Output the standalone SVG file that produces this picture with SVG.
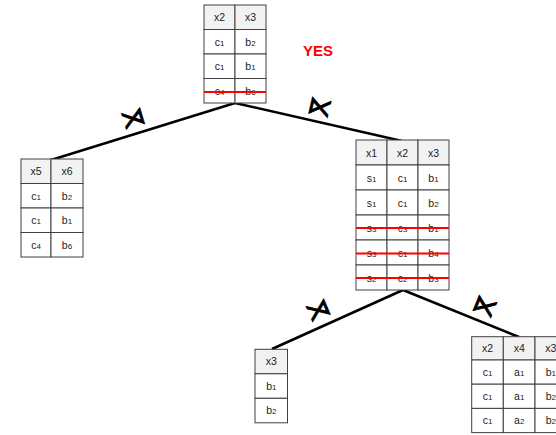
<svg xmlns="http://www.w3.org/2000/svg" width="556" height="435" viewBox="0 0 556 435">
<style>
.cell{fill:#ffffff;stroke:#404040;stroke-width:1}
.hd{fill:#f2f2f2;stroke:#404040;stroke-width:1}
.t{font-family:"Liberation Sans",Arial,sans-serif;font-size:10.5px;fill:#222;text-anchor:middle}
.s{font-size:8px}
.strike{stroke:#ff0000;stroke-width:2.2}
.edge{stroke:#000;stroke-width:2.5;fill:none}
.sym{font-family:"DejaVu Sans",sans-serif;font-size:24px;fill:#000;stroke:#000;stroke-width:1;text-anchor:middle;dominant-baseline:central}
.yes{font-family:"Liberation Sans",Arial,sans-serif;font-size:15px;font-weight:bold;fill:#ff0000;text-anchor:middle}
</style>
<rect width="556" height="435" fill="#ffffff"/>
<g id="connectors">
<line class="edge" x1="51" y1="160" x2="235" y2="103"/>
<line class="edge" x1="235" y1="103" x2="402" y2="141"/>
<line class="edge" x1="403" y1="290" x2="272" y2="349"/>
<line class="edge" x1="403" y1="290" x2="519" y2="337"/>
<text class="sym" transform="translate(133,118) rotate(-17)">⋊</text>
<text class="sym" transform="translate(320,107) rotate(13)">⋉</text>
<text class="sym" transform="translate(318,310) rotate(-23)">⋊</text>
<text class="sym" transform="translate(485,306) rotate(22)">⋉</text>
</g>
<g id="t_top">
<rect class="hd" x="204" y="5" width="31" height="24.5"/><rect class="hd" x="235" y="5" width="31" height="24.5"/>
<rect class="cell" x="204" y="29.5" width="31" height="24.5"/><rect class="cell" x="235" y="29.5" width="31" height="24.5"/>
<rect class="cell" x="204" y="54" width="31" height="24.5"/><rect class="cell" x="235" y="54" width="31" height="24.5"/>
<rect class="cell" x="204" y="78.5" width="31" height="24.5"/><rect class="cell" x="235" y="78.5" width="31" height="24.5"/>
<text class="t" x="219.5" y="21">x2</text><text class="t" x="250.5" y="21">x3</text>
<text class="t" x="219.5" y="45.5">c<tspan class="s">1</tspan></text><text class="t" x="250.5" y="45.5">b<tspan class="s">2</tspan></text>
<text class="t" x="219.5" y="70">c<tspan class="s">1</tspan></text><text class="t" x="250.5" y="70">b<tspan class="s">1</tspan></text>
<text class="t" x="219.5" y="94.5">c<tspan class="s">4</tspan></text><text class="t" x="250.5" y="94.5">b<tspan class="s">6</tspan></text>
<line class="strike" x1="204" y1="92" x2="266" y2="92"/>
</g>
<g id="yes">
<text class="yes" x="318" y="56">YES</text>
</g>
<g id="t_left">
<rect class="hd" x="21" y="159" width="30" height="24.5"/><rect class="hd" x="51" y="159" width="32" height="24.5"/>
<rect class="cell" x="21" y="183.5" width="30" height="24.5"/><rect class="cell" x="51" y="183.5" width="32" height="24.5"/>
<rect class="cell" x="21" y="208" width="30" height="24.5"/><rect class="cell" x="51" y="208" width="32" height="24.5"/>
<rect class="cell" x="21" y="232.5" width="30" height="24.5"/><rect class="cell" x="51" y="232.5" width="32" height="24.5"/>
<text class="t" x="36" y="175">x5</text><text class="t" x="67" y="175">x6</text>
<text class="t" x="36" y="199.5">c<tspan class="s">1</tspan></text><text class="t" x="67" y="199.5">b<tspan class="s">2</tspan></text>
<text class="t" x="36" y="224">c<tspan class="s">1</tspan></text><text class="t" x="67" y="224">b<tspan class="s">1</tspan></text>
<text class="t" x="36" y="248.5">c<tspan class="s">4</tspan></text><text class="t" x="67" y="248.5">b<tspan class="s">6</tspan></text>
</g>
<g id="t_mid">
<rect class="hd" x="356" y="140" width="31" height="25"/><rect class="hd" x="387" y="140" width="31" height="25"/><rect class="hd" x="418" y="140" width="31" height="25"/>
<rect class="cell" x="356" y="165" width="31" height="25"/><rect class="cell" x="387" y="165" width="31" height="25"/><rect class="cell" x="418" y="165" width="31" height="25"/>
<rect class="cell" x="356" y="190" width="31" height="25"/><rect class="cell" x="387" y="190" width="31" height="25"/><rect class="cell" x="418" y="190" width="31" height="25"/>
<rect class="cell" x="356" y="215" width="31" height="25"/><rect class="cell" x="387" y="215" width="31" height="25"/><rect class="cell" x="418" y="215" width="31" height="25"/>
<rect class="cell" x="356" y="240" width="31" height="25"/><rect class="cell" x="387" y="240" width="31" height="25"/><rect class="cell" x="418" y="240" width="31" height="25"/>
<rect class="cell" x="356" y="265" width="31" height="25"/><rect class="cell" x="387" y="265" width="31" height="25"/><rect class="cell" x="418" y="265" width="31" height="25"/>
<text class="t" x="371.5" y="156.5">x1</text><text class="t" x="402.5" y="156.5">x2</text><text class="t" x="433.5" y="156.5">x3</text>
<text class="t" x="371.5" y="181.5">s<tspan class="s">1</tspan></text><text class="t" x="402.5" y="181.5">c<tspan class="s">1</tspan></text><text class="t" x="433.5" y="181.5">b<tspan class="s">1</tspan></text>
<text class="t" x="371.5" y="206.5">s<tspan class="s">1</tspan></text><text class="t" x="402.5" y="206.5">c<tspan class="s">1</tspan></text><text class="t" x="433.5" y="206.5">b<tspan class="s">2</tspan></text>
<text class="t" x="371.5" y="231.5">s<tspan class="s">3</tspan></text><text class="t" x="402.5" y="231.5">c<tspan class="s">3</tspan></text><text class="t" x="433.5" y="231.5">b<tspan class="s">1</tspan></text>
<text class="t" x="371.5" y="256.5">s<tspan class="s">3</tspan></text><text class="t" x="402.5" y="256.5">c<tspan class="s">1</tspan></text><text class="t" x="433.5" y="256.5">b<tspan class="s">4</tspan></text>
<text class="t" x="371.5" y="281.5">s<tspan class="s">2</tspan></text><text class="t" x="402.5" y="281.5">c<tspan class="s">2</tspan></text><text class="t" x="433.5" y="281.5">b<tspan class="s">3</tspan></text>
<line class="strike" x1="356" y1="228" x2="449" y2="228"/>
<line class="strike" x1="356" y1="253.5" x2="449" y2="253.5"/>
<line class="strike" x1="356" y1="278" x2="449" y2="278"/>
</g>
<g id="t_botleft">
<rect class="hd" x="255" y="349.3" width="32.5" height="24.5"/>
<rect class="cell" x="255" y="373.8" width="32.5" height="24.5"/>
<rect class="cell" x="255" y="398.3" width="32.5" height="24.5"/>
<text class="t" x="271.3" y="365">x3</text>
<text class="t" x="271.3" y="389.5">b<tspan class="s">1</tspan></text>
<text class="t" x="271.3" y="414">b<tspan class="s">2</tspan></text>
</g>
<g id="t_botright">
<rect class="hd" x="471.7" y="336.7" width="31.6" height="23.3"/><rect class="hd" x="503.3" y="336.7" width="31.7" height="23.3"/><rect class="hd" x="535" y="336.7" width="31.7" height="23.3"/>
<rect class="cell" x="471.7" y="360" width="31.6" height="24.2"/><rect class="cell" x="503.3" y="360" width="31.7" height="24.2"/><rect class="cell" x="535" y="360" width="31.7" height="24.2"/>
<rect class="cell" x="471.7" y="384.2" width="31.6" height="24.2"/><rect class="cell" x="503.3" y="384.2" width="31.7" height="24.2"/><rect class="cell" x="535" y="384.2" width="31.7" height="24.2"/>
<rect class="cell" x="471.7" y="408.4" width="31.6" height="24.2"/><rect class="cell" x="503.3" y="408.4" width="31.7" height="24.2"/><rect class="cell" x="535" y="408.4" width="31.7" height="24.2"/>
<text class="t" x="487.5" y="352">x2</text><text class="t" x="519.2" y="352">x4</text><text class="t" x="550.8" y="352">x3</text>
<text class="t" x="487.5" y="376">c<tspan class="s">1</tspan></text><text class="t" x="519.2" y="376">a<tspan class="s">1</tspan></text><text class="t" x="550.8" y="376">b<tspan class="s">1</tspan></text>
<text class="t" x="487.5" y="400.2">c<tspan class="s">1</tspan></text><text class="t" x="519.2" y="400.2">a<tspan class="s">1</tspan></text><text class="t" x="550.8" y="400.2">b<tspan class="s">2</tspan></text>
<text class="t" x="487.5" y="424.4">c<tspan class="s">1</tspan></text><text class="t" x="519.2" y="424.4">a<tspan class="s">2</tspan></text><text class="t" x="550.8" y="424.4">b<tspan class="s">2</tspan></text>
</g>
</svg>
